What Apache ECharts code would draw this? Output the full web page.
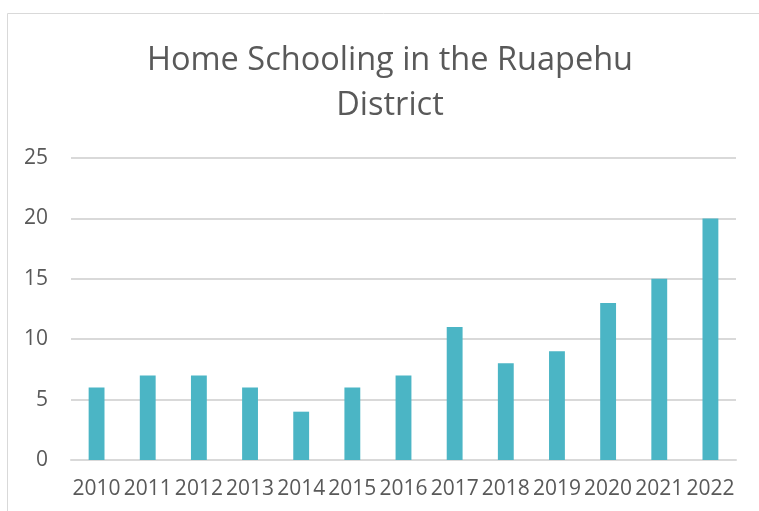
<!DOCTYPE html>
<html><head><meta charset="utf-8">
<script src="https://cdn.jsdelivr.net/npm/echarts@6/dist/echarts.min.js"></script>
<style>html,body{margin:0;padding:0;background:#fff}#c{width:759px;height:511px}</style>
</head><body><div id="c"></div>
<script>
const titleText = "Home Schooling in the Ruapehu\nDistrict";
const categories = ["2010","2011","2012","2013","2014","2015","2016","2017","2018","2019","2020","2021","2022"];
const values = [6,7,7,6,4,6,7,11,8,9,13,15,20];
const yTicks = {min:0, max:25, interval:5};

const chart = echarts.init(document.getElementById('c'), null, {renderer:'canvas'});
chart.setOption({
  animation:false,
  graphic:[{type:'rect', shape:{x:7.5,y:13.5,width:800,height:600}, style:{fill:'none', stroke:'#d9d9d9', lineWidth:1}}],
  title:{text:titleText, left:385, top:33, textAlign:'center',
    textStyle:{fontFamily:'Open Sans', fontSize:32.5, fontWeight:'normal', color:'#595959', lineHeight:45}},
  grid:{left:71, right:23, top:158, bottom:51, containLabel:false},
  xAxis:{type:'category', data:categories,
    axisLine:{lineStyle:{color:'#d9d9d9', width:2}}, axisTick:{show:false},
    axisLabel:{fontFamily:'Open Sans', fontSize:21, color:'#595959', margin:19, interval:0}},
  yAxis:{type:'value', min:yTicks.min, max:yTicks.max, interval:yTicks.interval,
    axisLine:{show:false}, axisTick:{show:false},
    splitLine:{lineStyle:{color:'#d9d9d9', width:2}},
    axisLabel:{fontFamily:'Open Sans', fontSize:21, color:'#595959', margin:23}},
  series:[{type:'bar', data:values, barWidth:'31%', itemStyle:{color:'#4bb5c5'}}]
});
</script></body></html>
